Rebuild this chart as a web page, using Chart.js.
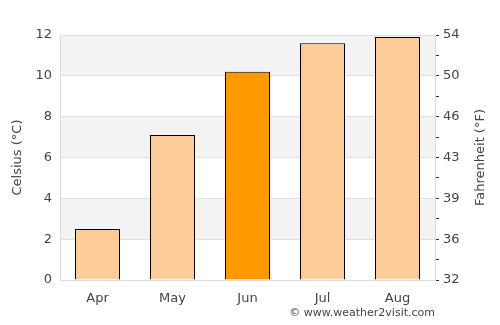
<!DOCTYPE html>
<html>
<head>
<meta charset="utf-8">
<script src="https://cdn.jsdelivr.net/npm/chart.js@4.4.1/dist/chart.umd.min.js"></script>
<style>
  html, body { margin: 0; padding: 0; background: #fff; }
  #wrap { width: 500px; height: 325px; position: relative; }
</style>
</head>
<body>
<div id="wrap"><canvas id="tempChart"></canvas></div>
<script>
// monthly average temperature (°C)
const months = ['Apr', 'May', 'Jun', 'Jul', 'Aug'];
const celsius = [2.5, 7.1, 10.2, 11.6, 11.9];
const highlightMonth = 'Jun';
const fahrenheitLabels = ['32', '36', '39', '43', '46', '50', '54'];
const bandRanges = [[10, 12], [6, 8], [2, 4]];

const barColors = months.map(m => m === highlightMonth ? '#ff9900' : '#ffcc99');
const tickFont = { family: 'DejaVu Sans', size: 13 };
const textColor = '#444';

// shaded bands behind the bars
const bandsPlugin = {
    id: 'bands',
    beforeDraw(chart) {
        const { ctx, chartArea, scales } = chart;
        ctx.save();
        ctx.fillStyle = '#f3f3f3';
        bandRanges.forEach(r => {
            const top = scales.y.getPixelForValue(r[1]);
            const bottom = scales.y.getPixelForValue(r[0]);
            ctx.fillRect(chartArea.left, top, chartArea.right - chartArea.left, bottom - top);
        });
        ctx.restore();
    }
};

// credit line + right axis title (reads bottom to top like the left one)
const extrasPlugin = {
    id: 'extras',
    afterDraw(chart) {
        const { ctx, chartArea } = chart;
        ctx.save();
        ctx.font = '11px "DejaVu Sans"';
        ctx.fillStyle = textColor;
        ctx.textAlign = 'right';
        ctx.textBaseline = 'middle';
        ctx.fillText('© www.weather2visit.com', chartArea.right, 313);

        ctx.font = '13px "DejaVu Sans"';
        ctx.textAlign = 'center';
        ctx.translate(481, (chartArea.top + chartArea.bottom) / 2);
        ctx.rotate(-Math.PI / 2);
        ctx.fillText('Fahrenheit (°F)', 0, 0);
        ctx.restore();
    }
};

new Chart(document.getElementById('tempChart'), {
    type: 'bar',
    data: {
        labels: months,
        datasets: [{
            data: celsius,
            backgroundColor: barColors,
            borderColor: '#000',
            borderWidth: 1,
            barPercentage: 0.6,
            categoryPercentage: 1.0
        }]
    },
    options: {
        responsive: true,
        maintainAspectRatio: false,
        animation: false,
        layout: { padding: { top: 35, left: 0, right: 0, bottom: 0 } },
        plugins: { legend: { display: false }, tooltip: { enabled: false } },
        scales: {
            x: {
                grid: { display: false },
                border: { color: '#ddd' },
                ticks: { color: textColor, font: tickFont, padding: 3 },
                afterFit(s) { s.height = 45; }
            },
            y: {
                position: 'left',
                min: 0, max: 12,
                ticks: { stepSize: 2, color: textColor, font: tickFont, padding: 8 },
                grid: { color: '#e0e0e0', drawTicks: false },
                border: { color: '#ddd' },
                title: {
                    display: true, text: 'Celsius (°C)', color: textColor,
                    font: tickFont, padding: { top: 10, bottom: 0 }
                },
                afterFit(s) { s.width = 60; }
            },
            y2: {
                position: 'right',
                min: 0, max: 12,
                ticks: {
                    stepSize: 1, color: textColor, font: tickFont, padding: 4,
                    autoSkip: false,
                    callback: (v) => v % 2 === 0 ? fahrenheitLabels[v / 2] : ''
                },
                grid: { drawOnChartArea: false, tickLength: 4, tickColor: '#333' },
                border: { color: '#ddd' },
                afterFit(s) { s.width = 65; }
            }
        }
    },
    plugins: [bandsPlugin, extrasPlugin]
});
</script>
</body>
</html>
